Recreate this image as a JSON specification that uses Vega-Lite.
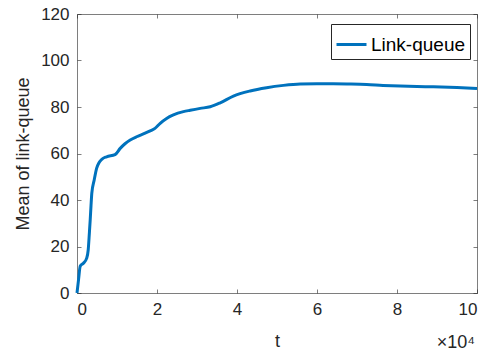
{
  "$schema": "https://vega.github.io/schema/vega-lite/v6.json",
  "width": 400,
  "height": 279,
  "autosize": "none",
  "padding": {"left": 77, "top": 14, "right": 20, "bottom": 63},
  "background": "white",
  "config": {
    "view": {"stroke": null},
    "font": "Liberation Sans",
    "axis": {
      "grid": false,
      "domainColor": "#262626",
      "domainWidth": 0.6,
      "tickColor": "#262626",
      "tickWidth": 0.6,
      "tickSize": -4,
      "labelColor": "#262626",
      "labelFontSize": 17,
      "labelFont": "Liberation Sans",
      "titleColor": "#262626",
      "titleFontSize": 18,
      "titleFont": "Liberation Sans",
      "titleFontWeight": "normal"
    }
  },
  "title": {
    "text": "×10⁴",
    "orient": "bottom",
    "anchor": "end",
    "fontSize": 18,
    "fontWeight": "normal",
    "color": "#262626",
    "font": "Liberation Sans",
    "offset": -16,
    "dx": -8
  },
  "data": {
    "values": [
      {"t": 0, "v": 0, "s": "Link-queue"},
      {"t": 400, "v": 6, "s": "Link-queue"},
      {"t": 800, "v": 11.5, "s": "Link-queue"},
      {"t": 1600, "v": 12.8, "s": "Link-queue"},
      {"t": 2400, "v": 14.9, "s": "Link-queue"},
      {"t": 2800, "v": 18.5, "s": "Link-queue"},
      {"t": 3100, "v": 26, "s": "Link-queue"},
      {"t": 3300, "v": 31.4, "s": "Link-queue"},
      {"t": 3500, "v": 37.5, "s": "Link-queue"},
      {"t": 3700, "v": 42.9, "s": "Link-queue"},
      {"t": 4300, "v": 48.6, "s": "Link-queue"},
      {"t": 4900, "v": 53.6, "s": "Link-queue"},
      {"t": 5500, "v": 56, "s": "Link-queue"},
      {"t": 6200, "v": 57.5, "s": "Link-queue"},
      {"t": 7400, "v": 58.6, "s": "Link-queue"},
      {"t": 9500, "v": 59.5, "s": "Link-queue"},
      {"t": 10800, "v": 62.2, "s": "Link-queue"},
      {"t": 12000, "v": 64.2, "s": "Link-queue"},
      {"t": 13300, "v": 65.8, "s": "Link-queue"},
      {"t": 14900, "v": 67.2, "s": "Link-queue"},
      {"t": 16600, "v": 68.4, "s": "Link-queue"},
      {"t": 18300, "v": 69.7, "s": "Link-queue"},
      {"t": 19500, "v": 70.8, "s": "Link-queue"},
      {"t": 20800, "v": 73, "s": "Link-queue"},
      {"t": 22400, "v": 75.1, "s": "Link-queue"},
      {"t": 24100, "v": 76.6, "s": "Link-queue"},
      {"t": 26600, "v": 78, "s": "Link-queue"},
      {"t": 28300, "v": 78.6, "s": "Link-queue"},
      {"t": 30800, "v": 79.4, "s": "Link-queue"},
      {"t": 33300, "v": 80.1, "s": "Link-queue"},
      {"t": 35800, "v": 81.8, "s": "Link-queue"},
      {"t": 39100, "v": 84.7, "s": "Link-queue"},
      {"t": 43300, "v": 86.9, "s": "Link-queue"},
      {"t": 47400, "v": 88.3, "s": "Link-queue"},
      {"t": 51600, "v": 89.3, "s": "Link-queue"},
      {"t": 55800, "v": 89.9, "s": "Link-queue"},
      {"t": 60000, "v": 90, "s": "Link-queue"},
      {"t": 64000, "v": 90, "s": "Link-queue"},
      {"t": 68000, "v": 89.9, "s": "Link-queue"},
      {"t": 72400, "v": 89.7, "s": "Link-queue"},
      {"t": 76500, "v": 89.3, "s": "Link-queue"},
      {"t": 80800, "v": 89, "s": "Link-queue"},
      {"t": 85000, "v": 88.8, "s": "Link-queue"},
      {"t": 89100, "v": 88.7, "s": "Link-queue"},
      {"t": 95000, "v": 88.4, "s": "Link-queue"},
      {"t": 100000, "v": 88, "s": "Link-queue"}
    ]
  },
  "resolve": {"axis": {"x": "independent", "y": "independent"}},
  "layer": [
    {
      "mark": {"type": "line", "strokeWidth": 3, "interpolate": "monotone"},
      "encoding": {
        "x": {
          "field": "t", "type": "quantitative",
          "scale": {"domain": [0, 100000], "nice": false},
          "axis": {
            "title": "t",
            "values": [0, 20000, 40000, 60000, 80000, 100000],
            "labelExpr": "datum.value / 10000",
            "labelPadding": 12,
            "titlePadding": 15
          }
        },
        "y": {
          "field": "v", "type": "quantitative",
          "scale": {"domain": [0, 120], "nice": false},
          "axis": {
            "title": "Mean of link-queue",
            "values": [0, 20, 40, 60, 80, 100, 120],
            "labelPadding": 12,
            "titlePadding": 8
          }
        },
        "color": {
          "field": "s", "type": "nominal",
          "scale": {"range": ["#0072BD"]},
          "legend": {
            "title": null,
            "orient": "none",
            "legendX": 254,
            "legendY": 10,
            "symbolType": "stroke",
            "symbolSize": 900,
            "symbolStrokeWidth": 3,
            "labelFontSize": 19,
            "labelOffset": 3,
            "labelFont": "Liberation Sans",
            "labelColor": "#000000",
            "strokeColor": "#262626",
            "fillColor": "white",
            "padding": 4
          }
        }
      }
    },
    {
      "mark": {"type": "line", "opacity": 0},
      "encoding": {
        "x": {
          "field": "t", "type": "quantitative",
          "axis": {"orient": "top", "title": null, "labels": false, "values": [0, 20000, 40000, 60000, 80000, 100000]}
        },
        "y": {
          "field": "v", "type": "quantitative",
          "axis": {"orient": "right", "title": null, "labels": false, "values": [0, 20, 40, 60, 80, 100, 120]}
        }
      }
    }
  ]
}
